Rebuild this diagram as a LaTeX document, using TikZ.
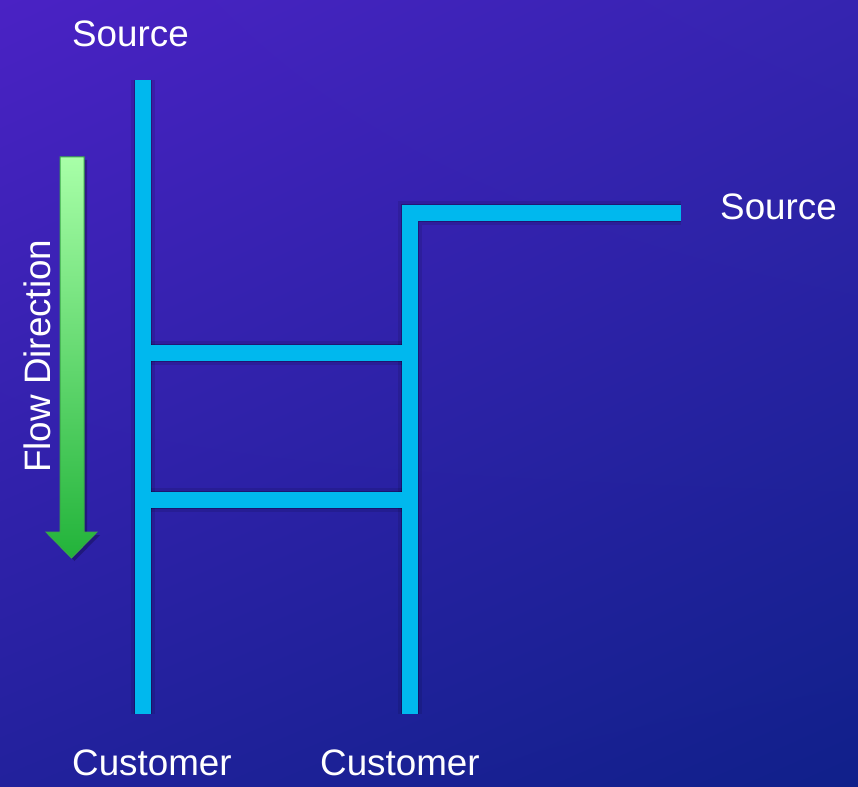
\documentclass[tikz,border=0pt]{standalone}
\usepackage{fontspec}
\setmainfont{Liberation Sans}
\usetikzlibrary{shadings}
\begin{document}
\begin{tikzpicture}[x=1pt,y=-1pt,
  lbl/.style={text=white,inner sep=0pt,font=\fontsize{36.8}{44}\selectfont},
  pipe/.style={draw=pipecyan,line width=16pt,line join=miter},
  pipeshadow/.style={draw=black,line width=18pt,opacity=0.25,line join=miter},
  pipeshadowsoft/.style={draw=black,line width=24pt,opacity=0.10,line join=miter}]
\definecolor{pipecyan}{HTML}{00B8EE}
\definecolor{bgtl}{HTML}{4A22C4}
\definecolor{bgtr}{HTML}{3524B0}
\definecolor{bgbl}{HTML}{22219C}
\definecolor{bgbr}{HTML}{10208A}
\definecolor{arrtop}{HTML}{A8FFA8}
\definecolor{arrbot}{HTML}{22B33A}
\definecolor{arredge}{HTML}{3AA848}
\useasboundingbox (0,0) rectangle (858,786);
\shade[upper left=bgtl,upper right=bgtr,lower left=bgbl,lower right=bgbr] (0,0) rectangle (858,786);
% coordinates
\coordinate (Ltop) at (143,80);
\coordinate (Lbot) at (143,714);
\coordinate (Rbot) at (410,714);
\coordinate (Rcorner) at (410,213);
\coordinate (Rend) at (681,213);
\coordinate (Ha1) at (143,353);
\coordinate (Hb1) at (410,353);
\coordinate (Ha2) at (143,500);
\coordinate (Hb2) at (410,500);
% shadows
\begin{scope}[shift={(5,5)}]
  \draw[pipeshadowsoft] (Ltop) -- (Lbot);
  \draw[pipeshadowsoft] (Rend) -- (Rcorner) -- (Rbot);
  \draw[pipeshadowsoft] (Ha1) -- (Hb1);
  \draw[pipeshadowsoft] (Ha2) -- (Hb2);
\end{scope}
\begin{scope}[shift={(4,4)}]
  \draw[pipeshadow] (Ltop) -- (Lbot);
  \draw[pipeshadow] (Rend) -- (Rcorner) -- (Rbot);
  \draw[pipeshadow] (Ha1) -- (Hb1);
  \draw[pipeshadow] (Ha2) -- (Hb2);
\end{scope}
% pipes
\draw[pipe] (Ha1) -- (Hb1);
\draw[pipe] (Ha2) -- (Hb2);
\draw[pipe] (Ltop) -- (Lbot);
\draw[pipe] (Rend) -- (Rcorner) -- (Rbot);
% flow arrow
\fill[black,opacity=0.25,shift={(3,3)}] (60,157) -- (84,157) -- (84,532) -- (97,532) -- (71.5,558) -- (46,532) -- (60,532) -- cycle;
\shade[top color=arrtop,bottom color=arrbot,draw=arredge,line width=1pt]
  (60,157) -- (84,157) -- (84,532) -- (97,532) -- (71.5,558) -- (46,532) -- (60,532) -- cycle;
% labels
\node[lbl,anchor=base west] (src1) at (72,47) {Source};
\node[lbl,anchor=base west] (src2) at (720,219) {Source};
\node[lbl,anchor=base west] (cust1) at (72,775) {Customer};
\node[lbl,anchor=base west] (cust2) at (320,775) {Customer};
\node[lbl,anchor=base west,rotate=90] (flow) at (50,473) {Flow Direction};
\end{tikzpicture}
\end{document}
